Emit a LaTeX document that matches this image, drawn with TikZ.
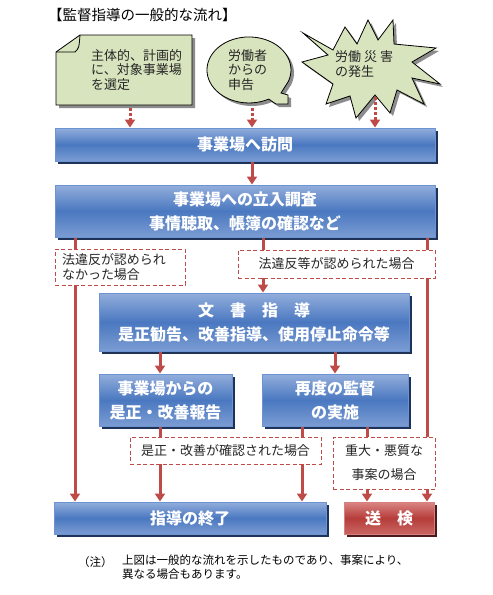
\documentclass[tikz,border=0pt]{standalone}
\usepackage{fontspec}
\setmainfont{Noto Sans CJK JP}
\usepackage{tikz}
\usetikzlibrary{arrows.meta,positioning,shadows}
\definecolor{BoxTop}{HTML}{93AEDC}
\definecolor{BoxMid}{HTML}{4A78C0}
\definecolor{BoxBot}{HTML}{7B9CD3}
\definecolor{BoxEdge}{HTML}{6C94D2}
\definecolor{BoxShade}{HTML}{1F3358}
\definecolor{RTop}{HTML}{DA8684}
\definecolor{RMid}{HTML}{B63D3A}
\definecolor{RBot}{HTML}{C96562}
\definecolor{REdge}{HTML}{D8807D}
\definecolor{RShade}{HTML}{4A1A1A}
\definecolor{FlowRed}{HTML}{BE4B48}
\definecolor{NoteGreen}{HTML}{D7E4BD}
\definecolor{Ink}{HTML}{262626}
\tikzset{
  flowbox/.style={draw=BoxEdge,line width=1pt,top color=BoxTop,bottom color=BoxBot,middle color=BoxMid,
    text=white,font=\fontsize{16}{24}\selectfont\bfseries,align=center,inner sep=0pt,
    drop shadow={shadow xshift=3pt,shadow yshift=-3pt,fill=BoxShade,opacity=1}},
  endbox/.style={flowbox,draw=REdge,top color=RTop,bottom color=RBot,middle color=RMid,
    drop shadow={shadow xshift=3pt,shadow yshift=-3pt,fill=RShade,opacity=1}},
  casebox/.style={draw=FlowRed,dashed,dash pattern=on 4pt off 2.5pt,line width=.9pt,fill=white,
    text=Ink,font=\fontsize{13}{15}\selectfont,inner sep=0pt},
  shapetext/.style={text=Ink,font=\fontsize{13}{14.5}\selectfont,align=left,inner sep=0pt},
  greenshape/.style={fill=NoteGreen,draw=black,line width=.8pt,
    drop shadow={shadow xshift=3pt,shadow yshift=-3pt,fill=black!45,opacity=1}},
  flow/.style={draw=FlowRed,line width=3pt,-{Triangle[width=10pt,length=8pt]}},
  cue/.style={flow,dash pattern=on 3pt off 2pt}}

\begin{document}
\begin{tikzpicture}[x=1pt,y=-1pt]
  \fill[white] (0,0) rectangle (493,595);
  \useasboundingbox (0,0) rectangle (493,595);
  \node[anchor=west,inner sep=0pt,font=\fontsize{14.5}{16}\selectfont] (title) at (48,15) {【監督指導の一般的な流れ】};
  % starting points
  \path[greenshape] (80,35) -- (192,35) -- (192,105) -- (56,105) -- (56,52) -- cycle;
  \draw[line width=.8pt] (56,52) -- (75,52) .. controls (79,48) .. (80,35);
  \path[greenshape] (268.7,99.1) arc[start angle=62,end angle=380,x radius=42,y radius=33]
    -- (281,93) -- (288,95) -- (288,104) -- (276,104) -- cycle;
  \path[greenshape] (303,33) -- (333,50) -- (345,27) -- (357,44) -- (368,20) -- (378,40) -- (393,20)
    -- (394,44) -- (436,48) -- (412,62) -- (440,84) -- (412,78) -- (424,104) -- (397,90)
    -- (390,113) -- (375,95) -- (356,118) -- (350,96) -- (326,104) -- (333,84) -- (302,62)
    -- (328,55) -- cycle;
  \node[shapetext,anchor=west] (plan) at (91,70) {主体的、計画的\\に、対象事業場\\を選定};
  \node[shapetext,anchor=west] (claim) at (228,70) {労働者\\からの\\申告};
  \node[shapetext,anchor=west] (accident) at (335,64) {労働 災 害\\の発生};
  \coordinate (planbot) at (130,108);
  \coordinate (claimbot) at (252,108);
  \coordinate (accbot) at (375,97);
  % main flow
  \node[flowbox,minimum width=380pt,minimum height=33pt] (visit) at (245,144.5) {事業場へ訪問};
  \node[flowbox,minimum width=380pt,minimum height=52pt] (survey) at (245,211) {事業場への立入調査\\事情聴取、帳簿の確認など};
  \node[flowbox,minimum width=310pt,minimum height=58pt] (docs) at (254,322) {文　書　指　導\\是正勧告、改善指導、使用停止命令等};
  \node[flowbox,minimum width=133pt,minimum height=52pt] (report) at (165.5,400) {事業場からの\\是正・改善報告};
  \node[flowbox,minimum width=146pt,minimum height=52pt] (revisit) at (335,400) {再度の監督\\の実施};
  \node[flowbox,minimum width=272pt,minimum height=32pt] (finish) at (190,518) {指導の終了};
  \node[endbox,minimum width=90pt,minimum height=32pt] (prosec) at (389,518) {送　検};
  \coordinate (xa) at (75,0);
  \coordinate (xb) at (160,0);
  \coordinate (xc) at (263,0);
  \coordinate (xd) at (302,0);
  \coordinate (xe) at (367,0);
  \coordinate (xf) at (427,0);
  % Arrows
  \draw[cue] (planbot) -- (visit.north -| planbot);
  \draw[cue] (claimbot) -- (visit.north -| claimbot);
  \draw[cue] (accbot) -- (visit.north -| accbot);
  \draw[flow] (visit.south -| claimbot) -- (survey.north -| claimbot);
  \draw[flow] (survey.south -| xa) -- (finish.north -| xa);
  \draw[flow] (survey.south -| xc) -- (docs.north -| xc);
  \draw[flow] (survey.south -| xf) -- (prosec.north -| xf);
  \draw[flow] (docs.south -| xb) -- (report.north -| xb);
  \draw[flow] (docs.south -| revisit) -- (revisit.north);
  \draw[flow] (report.south -| xb) -- (finish.north -| xb);
  \draw[flow] (revisit.south -| xd) -- (finish.north -| xd);
  \draw[flow] (revisit.south -| xe) -- (prosec.north -| xe);
  % cases
  \node[casebox,minimum width=130pt,minimum height=36pt,align=left,text width=116pt] (nofind) at (120,267) {法違反が認められ\\なかった場合};
  \node[casebox,minimum width=197pt,minimum height=28pt] (found) at (336.5,264) {法違反等が認められた場合};
  \node[casebox,minimum width=191pt,minimum height=27pt] (fixed) at (225.5,450.5) {是正・改善が確認された場合};
  \node[casebox,minimum width=102pt,minimum height=52pt,align=center,font=\fontsize{13}{24}\selectfont] (grave) at (384,463) {重大・悪質な\\事案の場合};
  % note
  \node[anchor=west,inner sep=0pt,font=\fontsize{11.5}{14}\selectfont] (mark) at (78,562) {（注）};
  \node[anchor=north west,inner sep=0pt,align=left,font=\fontsize{11.5}{14}\selectfont] (remark) at (122,555) {上図は一般的な流れを示したものであり、事案により、\\異なる場合もあります。};
\end{tikzpicture}
\end{document}
